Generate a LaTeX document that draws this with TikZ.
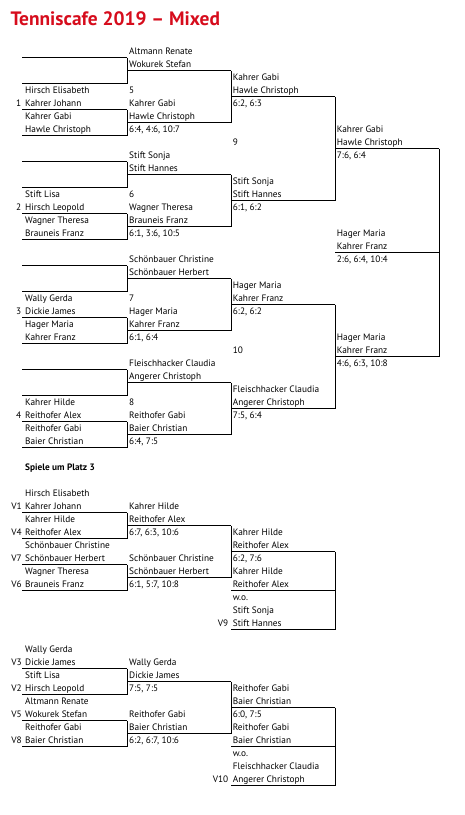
\documentclass[tikz,border=0pt]{standalone}
\usepackage{fontspec}
\setmainfont{PT Sans}
\definecolor{titlered}{RGB}{214,12,28}
\tikzset{
 nm/.style={anchor=base west, inner sep=0pt, font=\fontsize{9.3}{10}\selectfont},
 lb/.style={anchor=base east, inner sep=0pt, font=\fontsize{9.3}{10}\selectfont},
 br/.style={line width=0.9pt, black},
}
\newcommand\btx[4]{\node[nm] (#1) at (#2,{-(54+13*(#3))}) {#4};}
\newcommand\blb[4]{\node[lb] (#1) at (#2,{-(54+13*(#3))}) {#4};}
\newcommand\brh[3]{\draw[br] (#1,{-(57.5+13*(#3))}) -- (#2,{-(57.5+13*(#3))});}
\newcommand\brv[3]{\draw[br] (#1,{-(57.5+13*(#2))}) -- (#1,{-(57.5+13*(#3))});}
\begin{document}
\begin{tikzpicture}[x=1pt,y=1pt]
\useasboundingbox (0,0) rectangle (464,-815);
\node[anchor=base west, inner sep=0pt, font=\fontsize{19.4}{21}\selectfont\bfseries, text=titlered] (title) at (10.5,-25.5) {Tenniscafe 2019 – Mixed};

% ---------- main bracket lines ----------
\foreach \b in {0,8,16,24}{
  \brh{22}{127}{\b}
  \brh{22}{127}{\b+2}
  \brh{22}{127}{\b+4}
  \brh{22}{127}{\b+6}
  \brv{127}{\b}{\b+2}
  \brv{127}{\b+4}{\b+6}
  \brh{127}{231}{\b+1}
  \brh{127}{231}{\b+5}
  \brv{231}{\b+1}{\b+5}
}
\brh{231}{335}{3}
\brh{231}{335}{11}
\brv{335}{3}{11}
\brh{231}{335}{19}
\brh{231}{335}{27}
\brv{335}{19}{27}
\brh{335}{439}{7}
\brh{335}{439}{23}
\brh{335}{439}{15}
\brv{439}{7}{23}

% ---------- group 1 ----------
\btx{g1w1}{129}{0}{Altmann Renate}
\btx{g1w2}{129}{1}{Wokurek Stefan}
\btx{g1a1}{25}{3}{Hirsch Elisabeth}
\blb{g1n}{21.5}{4}{1}
\btx{g1a2}{25}{4}{Kahrer Johann}
\btx{g1b1}{25}{5}{Kahrer Gabi}
\btx{g1b2}{25}{6}{Hawle Christoph}
\btx{g1m}{129}{3}{5}
\btx{g1v1}{129}{4}{Kahrer Gabi}
\btx{g1v2}{129}{5}{Hawle Christoph}
\btx{g1s}{129}{6}{6:4, 4:6, 10:7}
\btx{g1c1}{232.7}{2}{Kahrer Gabi}
\btx{g1c2}{232.7}{3}{Hawle Christoph}
\btx{g1cs}{232.7}{4}{6:2, 6:3}

% ---------- group 2 ----------
\btx{g2w1}{129}{8}{Stift Sonja}
\btx{g2w2}{129}{9}{Stift Hannes}
\btx{g2a1}{25}{11}{Stift Lisa}
\blb{g2n}{21.5}{12}{2}
\btx{g2a2}{25}{12}{Hirsch Leopold}
\btx{g2b1}{25}{13}{Wagner Theresa}
\btx{g2b2}{25}{14}{Brauneis Franz}
\btx{g2m}{129}{11}{6}
\btx{g2v1}{129}{12}{Wagner Theresa}
\btx{g2v2}{129}{13}{Brauneis Franz}
\btx{g2s}{129}{14}{6:1, 3:6, 10:5}
\btx{g2c1}{232.7}{10}{Stift Sonja}
\btx{g2c2}{232.7}{11}{Stift Hannes}
\btx{g2cs}{232.7}{12}{6:1, 6:2}

% ---------- group 3 ----------
\btx{g3w1}{129}{16}{Schönbauer Christine}
\btx{g3w2}{129}{17}{Schönbauer Herbert}
\btx{g3a1}{25}{19}{Wally Gerda}
\blb{g3n}{21.5}{20}{3}
\btx{g3a2}{25}{20}{Dickie James}
\btx{g3b1}{25}{21}{Hager Maria}
\btx{g3b2}{25}{22}{Kahrer Franz}
\btx{g3m}{129}{19}{7}
\btx{g3v1}{129}{20}{Hager Maria}
\btx{g3v2}{129}{21}{Kahrer Franz}
\btx{g3s}{129}{22}{6:1, 6:4}
\btx{g3c1}{232.7}{18}{Hager Maria}
\btx{g3c2}{232.7}{19}{Kahrer Franz}
\btx{g3cs}{232.7}{20}{6:2, 6:2}

% ---------- group 4 ----------
\btx{g4w1}{129}{24}{Fleischhacker Claudia}
\btx{g4w2}{129}{25}{Angerer Christoph}
\btx{g4a1}{25}{27}{Kahrer Hilde}
\blb{g4n}{21.5}{28}{4}
\btx{g4a2}{25}{28}{Reithofer Alex}
\btx{g4b1}{25}{29}{Reithofer Gabi}
\btx{g4b2}{25}{30}{Baier Christian}
\btx{g4m}{129}{27}{8}
\btx{g4v1}{129}{28}{Reithofer Gabi}
\btx{g4v2}{129}{29}{Baier Christian}
\btx{g4s}{129}{30}{6:4, 7:5}
\btx{g4c1}{232.7}{26}{Fleischhacker Claudia}
\btx{g4c2}{232.7}{27}{Angerer Christoph}
\btx{g4cs}{232.7}{28}{7:5, 6:4}

% ---------- semis / final ----------
\btx{m9}{232.7}{7}{9}
\btx{m10}{232.7}{23}{10}
\btx{s1a}{336.7}{6}{Kahrer Gabi}
\btx{s1b}{336.7}{7}{Hawle Christoph}
\btx{s1s}{336.7}{8}{7:6, 6:4}
\btx{fa}{336.7}{14}{Hager Maria}
\btx{fb}{336.7}{15}{Kahrer Franz}
\btx{fs}{336.7}{16}{2:6, 6:4, 10:4}
\btx{s2a}{336.7}{22}{Hager Maria}
\btx{s2b}{336.7}{23}{Kahrer Franz}
\btx{s2s}{336.7}{24}{4:6, 6:3, 10:8}

% ---------- Spiele um Platz 3 ----------
\node[nm, font=\fontsize{9.3}{10}\selectfont\bfseries] (p3) at (25,{-(54+13*32)}) {Spiele um Platz 3};

% block A lines
\brh{22}{127}{35}
\brh{22}{127}{37}
\brv{127}{35}{37}
\brh{22}{127}{39}
\brh{22}{127}{41}
\brv{127}{39}{41}
\brh{127}{231}{36}
\brh{127}{231}{40}
\brv{231}{36}{40}
\brh{231}{335}{38}
\brh{231}{335}{41}
\brh{231}{335}{44}
\brv{335}{38}{44}
% block B lines
\brh{22}{127}{47}
\brh{22}{127}{49}
\brv{127}{47}{49}
\brh{22}{127}{51}
\brh{22}{127}{53}
\brv{127}{51}{53}
\brh{127}{231}{48}
\brh{127}{231}{52}
\brv{231}{48}{52}
\brh{231}{335}{50}
\brh{231}{335}{53}
\brh{231}{335}{56}
\brv{335}{50}{56}

% block A text
\btx{a1}{25}{34}{Hirsch Elisabeth}
\blb{aV1}{22}{35}{V1}
\btx{a2}{25}{35}{Kahrer Johann}
\btx{a3}{25}{36}{Kahrer Hilde}
\blb{aV4}{22}{37}{V4}
\btx{a4}{25}{37}{Reithofer Alex}
\btx{a5}{25}{38}{Schönbauer Christine}
\blb{aV7}{22}{39}{V7}
\btx{a6}{25}{39}{Schönbauer Herbert}
\btx{a7}{25}{40}{Wagner Theresa}
\blb{aV6}{22}{41}{V6}
\btx{a8}{25}{41}{Brauneis Franz}
\btx{ab1}{129}{35}{Kahrer Hilde}
\btx{ab2}{129}{36}{Reithofer Alex}
\btx{ab3}{129}{37}{6:7, 6:3, 10:6}
\btx{ab4}{129}{39}{Schönbauer Christine}
\btx{ab5}{129}{40}{Schönbauer Herbert}
\btx{ab6}{129}{41}{6:1, 5:7, 10:8}
\btx{ac1}{232.7}{37}{Kahrer Hilde}
\btx{ac2}{232.7}{38}{Reithofer Alex}
\btx{ac3}{232.7}{39}{6:2, 7:6}
\btx{ac4}{232.7}{40}{Kahrer Hilde}
\btx{ac5}{232.7}{41}{Reithofer Alex}
\btx{ac6}{232.7}{42}{w.o.}
\btx{ac7}{232.7}{43}{Stift Sonja}
\blb{aV9}{228.5}{44}{V9}
\btx{ac8}{232.7}{44}{Stift Hannes}

% block B text
\btx{b1}{25}{46}{Wally Gerda}
\blb{bV3}{22}{47}{V3}
\btx{b2}{25}{47}{Dickie James}
\btx{b3}{25}{48}{Stift Lisa}
\blb{bV2}{22}{49}{V2}
\btx{b4}{25}{49}{Hirsch Leopold}
\btx{b5}{25}{50}{Altmann Renate}
\blb{bV5}{22}{51}{V5}
\btx{b6}{25}{51}{Wokurek Stefan}
\btx{b7}{25}{52}{Reithofer Gabi}
\blb{bV8}{22}{53}{V8}
\btx{b8}{25}{53}{Baier Christian}
\btx{bb1}{129}{47}{Wally Gerda}
\btx{bb2}{129}{48}{Dickie James}
\btx{bb3}{129}{49}{7:5, 7:5}
\btx{bb4}{129}{51}{Reithofer Gabi}
\btx{bb5}{129}{52}{Baier Christian}
\btx{bb6}{129}{53}{6:2, 6:7, 10:6}
\btx{bc1}{232.7}{49}{Reithofer Gabi}
\btx{bc2}{232.7}{50}{Baier Christian}
\btx{bc3}{232.7}{51}{6:0, 7:5}
\btx{bc4}{232.7}{52}{Reithofer Gabi}
\btx{bc5}{232.7}{53}{Baier Christian}
\btx{bc6}{232.7}{54}{w.o.}
\btx{bc7}{232.7}{55}{Fleischhacker Claudia}
\blb{bV10}{228.5}{56}{V10}
\btx{bc8}{232.7}{56}{Angerer Christoph}
\end{tikzpicture}
\end{document}
